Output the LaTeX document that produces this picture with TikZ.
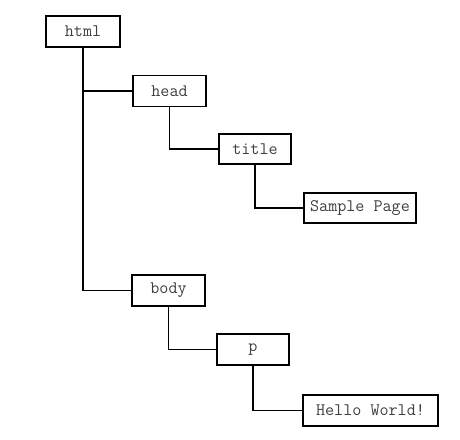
\documentclass[tikz,border=0pt]{standalone}
\usepackage{fontspec}
\begin{document}
\begin{tikzpicture}[x=1pt,y=-1pt,
  elem/.style={draw=black, line width=1.5pt, fill=white, inner sep=0pt,
    minimum height=31pt, text=black!75,
    font=\ttfamily\fontsize{17.6}{19}\selectfont},
  link/.style={draw=black, line width=1.3pt}]
\useasboundingbox[fill=white] (0,0) rectangle (460,439);
\node[elem, minimum width=74pt] (html)   at (83,31.5)    {html};
\node[elem, minimum width=73pt] (head)   at (169.5,91)   {head};
\node[elem, minimum width=72pt, minimum height=30pt] (title) at (255,149) {title};
\node[elem, minimum width=112pt, minimum height=30pt] (sample) at (360,208) {Sample Page};
\node[elem, minimum width=73pt] (body)   at (168.5,290.5) {body};
\node[elem, minimum width=72pt] (p)      at (253,349.5)  {p};
\node[elem, minimum width=135pt] (hello) at (370.5,410.5) {Hello World!};
% tree connectors: down from each parent, then across to the child
\draw[link] (html.south) |- (head.west);
\draw[link] (html.south) |- (body.west);
\draw[link] (head.south) |- (title.west);
\draw[link] (title.south) |- (sample.west);
\draw[link] (body.south) |- (p.west);
\draw[link] (p.south) |- (hello.west);
\end{tikzpicture}
\end{document}
